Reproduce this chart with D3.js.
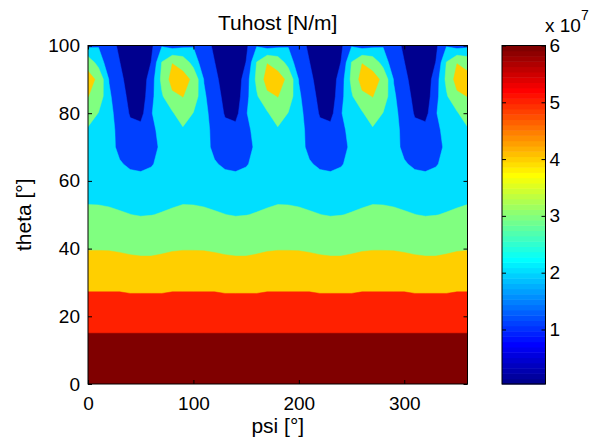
<!DOCTYPE html>
<html>
<head>
<meta charset="utf-8">
<script src="https://cdn.jsdelivr.net/npm/d3@7"></script>
<style>
body{margin:0;background:#fff;}
text{font-family:"Liberation Sans",Arial,sans-serif;fill:#000;}
</style>
</head>
<body>
<script>
// grid positions (degrees)
const psi = [0,10,20,30,40,50,60,70,80,90,100,110,120,130,140,150,160,170,180,190,200,210,220,230,240,250,260,270,280,290,300,310,320,330,340,350,360];
const theta = [0,5,10,15,20,25,30,35,40,45,50,55,60,65,70,75,80,85,90,95,100];

// Tuhost values in 1e7 N/m, one row per theta (ascending), one column per psi
const tuhost = [
 [6,6,6,6,6,6,6,6,6,6,6,6,6,6,6,6,6,6,6,6,6,6,6,6,6,6,6,6,6,6,6,6,6,6,6,6,6],
 [6,6,6,6,6,6,6,6,6,6,6,6,6,6,6,6,6,6,6,6,6,6,6,6,6,6,6,6,6,6,6,6,6,6,6,6,6],
 [6,6,6,6,6,6,6,6,6,6,6,6,6,6,6,6,6,6,6,6,6,6,6,6,6,6,6,6,6,6,6,6,6,6,6,6,6],
 [6,6,6,6,6,6,6,6,6,6,6,6,6,6,6,6,6,6,6,6,6,6,6,6,6,6,6,6,6,6,6,6,6,6,6,6,6],
 [5.6,5.6,5.6,5.6,5.6,5.6,5.6,5.6,5.6,5.6,5.6,5.6,5.6,5.6,5.6,5.6,5.6,5.6,5.6,5.6,5.6,5.6,5.6,5.6,5.6,5.6,5.6,5.6,5.6,5.6,5.6,5.6,5.6,5.6,5.6,5.6,5.6],
 [5.33,5.33,5.33,5.33,5.24,5.24,5.24,5.24,5.33,5.33,5.33,5.33,5.33,5.24,5.24,5.24,5.24,5.33,5.33,5.33,5.33,5.33,5.24,5.24,5.24,5.24,5.33,5.33,5.33,5.33,5.33,5.24,5.24,5.24,5.24,5.33,5.33],
 [4.7,4.7,4.7,4.7,4.7,4.7,4.7,4.7,4.7,4.7,4.7,4.7,4.7,4.7,4.7,4.7,4.7,4.7,4.7,4.7,4.7,4.7,4.7,4.7,4.7,4.7,4.7,4.7,4.7,4.7,4.7,4.7,4.7,4.7,4.7,4.7,4.7],
 [4.35,4.35,4.35,4.35,4.35,4.35,4.35,4.35,4.35,4.35,4.35,4.35,4.35,4.35,4.35,4.35,4.35,4.35,4.35,4.35,4.35,4.35,4.35,4.35,4.35,4.35,4.35,4.35,4.35,4.35,4.35,4.35,4.35,4.35,4.35,4.35,4.35],
 [3.97,3.97,3.96,3.91,3.82,3.74,3.74,3.85,3.94,3.97,3.97,3.96,3.91,3.82,3.74,3.74,3.85,3.94,3.97,3.97,3.96,3.91,3.82,3.74,3.74,3.85,3.94,3.97,3.97,3.96,3.91,3.82,3.74,3.74,3.85,3.94,3.97],
 [3.5,3.5,3.5,3.5,3.5,3.5,3.5,3.5,3.5,3.5,3.5,3.5,3.5,3.5,3.5,3.5,3.5,3.5,3.5,3.5,3.5,3.5,3.5,3.5,3.5,3.5,3.5,3.5,3.5,3.5,3.5,3.5,3.5,3.5,3.5,3.5,3.5],
 [3.38,3.34,3.2,3.06,2.98,2.92,2.95,3.02,3.15,3.38,3.34,3.2,3.06,2.98,2.92,2.95,3.02,3.15,3.38,3.34,3.2,3.06,2.98,2.92,2.95,3.02,3.15,3.38,3.34,3.2,3.06,2.98,2.92,2.95,3.02,3.15,3.38],
 [2.7,2.7,2.7,2.7,2.7,2.6,2.65,2.7,2.7,2.7,2.7,2.7,2.7,2.7,2.6,2.65,2.7,2.7,2.7,2.7,2.7,2.7,2.7,2.6,2.65,2.7,2.7,2.7,2.7,2.7,2.7,2.7,2.6,2.65,2.7,2.7,2.7],
 [2.55,2.55,2.55,2.45,2.3,2.25,2.4,2.55,2.55,2.55,2.55,2.55,2.45,2.3,2.25,2.4,2.55,2.55,2.55,2.55,2.55,2.45,2.3,2.25,2.4,2.55,2.55,2.55,2.55,2.55,2.45,2.3,2.25,2.4,2.55,2.55,2.55],
 [2.5,2.5,2.45,2.1,1.9,1.85,1.95,2.3,2.5,2.5,2.5,2.45,2.1,1.9,1.85,1.95,2.3,2.5,2.5,2.5,2.45,2.1,1.9,1.85,1.95,2.3,2.5,2.5,2.5,2.45,2.1,1.9,1.85,1.95,2.3,2.5,2.5],
 [2.6,2.55,2.3,1.85,1.7,1.65,1.85,2.13,2.5,2.6,2.55,2.3,1.85,1.7,1.65,1.85,2.13,2.5,2.6,2.55,2.3,1.85,1.7,1.65,1.85,2.13,2.5,2.6,2.55,2.3,1.85,1.7,1.65,1.85,2.13,2.5,2.6],
 [2.8,2.7,2.43,1.7,1.25,1.4,1.9,2.2,2.6,2.8,2.7,2.43,1.7,1.25,1.4,1.9,2.2,2.6,2.8,2.7,2.43,1.7,1.25,1.4,1.9,2.2,2.6,2.8,2.7,2.43,1.7,1.25,1.4,1.9,2.2,2.6,2.8],
 [3.65,2.93,2.38,1.5,1.02,0.76,1.95,2.75,2.85,3.65,2.93,2.38,1.5,1.02,0.76,1.95,2.75,2.85,3.65,2.93,2.38,1.5,1.02,0.76,1.95,2.75,2.85,3.65,2.93,2.38,1.5,1.02,0.76,1.95,2.75,2.85,3.65],
 [4.03,3.6,2.18,1.42,0.88,0.5,1.75,2.85,3.8,4.03,3.6,2.18,1.42,0.88,0.5,1.75,2.85,3.8,4.03,3.6,2.18,1.42,0.88,0.5,1.75,2.85,3.8,4.03,3.6,2.18,1.42,0.88,0.5,1.75,2.85,3.8,4.03],
 [4.4,3.8,1.98,1.3,0.7,0.45,1.55,3.2,4.4,4.4,3.8,1.98,1.3,0.7,0.45,1.55,3.2,4.4,4.4,3.8,1.98,1.3,0.7,0.45,1.55,3.2,4.4,4.4,3.8,1.98,1.3,0.7,0.45,1.55,3.2,4.4,4.4],
 [3.6,2.6,1.46,1.1,0.5,0.4,1.1,3.0,3.98,3.6,2.6,1.46,1.1,0.5,0.4,1.1,3.0,3.98,3.6,2.6,1.46,1.1,0.5,0.4,1.1,3.0,3.98,3.6,2.6,1.46,1.1,0.5,0.4,1.1,3.0,3.98,3.6],
 [1.8,1.95,1.5,0.9,0.35,0.3,0.9,1.95,1.6,1.8,1.95,1.5,0.9,0.35,0.3,0.9,1.95,1.6,1.8,1.95,1.5,0.9,0.35,0.3,0.9,1.95,1.6,1.8,1.95,1.5,0.9,0.35,0.3,0.9,1.95,1.6,1.8]
];

const levels = [0.04,1.08,2.03,2.97,4.01,5.05,6.0];   // contour levels
const cRange = [0.04,6];                               // colour axis
const xTicks = [0,100,200,300];
const yTicks = [0,20,40,60,80,100];
const cTicks = [1,2,3,4,5,6];

const W = 592, H = 443;
const plot = {left:88, right:467.5, top:45.5, bottom:384};
const cbar = {left:502, right:545.5};

const svg = d3.select("body").append("svg")
	.attr("width",W)
	.attr("height",H);

// matlab jet(64)
function jet(k){ // k = 1..64
	var r,g,b;
	if(k<=24) r=0; else if(k<=40) r=(k-24)/16; else if(k<=56) r=1; else r=1-(k-56)/16;
	if(k<=8) g=0; else if(k<=24) g=(k-8)/16; else if(k<=40) g=1; else if(k<=56) g=1-(k-40)/16; else g=0;
	if(k<=8) b=0.5+k/16; else if(k<=24) b=1; else if(k<=40) b=1-(k-24)/16; else b=0;
	return d3.rgb(r*255,g*255,b*255).formatHex();
}
function levelColor(v){
	var k = Math.floor((v-cRange[0])/(cRange[1]-cRange[0])*64);
	k = Math.max(0,Math.min(63,k));
	return jet(k+1);
}

var x = d3.scaleLinear().domain([0,360]).range([plot.left,plot.right]);
var y = d3.scaleLinear().domain([0,100]).range([plot.bottom,plot.top]);

// grid index -> data coords (d3.contours puts value i at i+0.5)
var colPsi = d3.scaleLinear().domain([0.5,psi.length-0.5]).range([psi[0],psi[psi.length-1]]);
var rowTheta = d3.scaleLinear().domain([0.5,theta.length-0.5]).range([theta[0],theta[theta.length-1]]);

var proj = d3.geoTransform({point:function(cx,cy){
	this.stream.point(x(colPsi(cx)),y(rowTheta(cy)));
}});
var path = d3.geoPath(proj);

var values = [];
tuhost.forEach(function(row){ row.forEach(function(v){ values.push(v); }); });

var contours = d3.contours()
	.size([psi.length,theta.length])
	.thresholds(levels.slice(1))(values);

svg.append("clipPath").attr("id","clip")
	.append("rect")
	.attr("x",plot.left).attr("y",plot.top)
	.attr("width",plot.right-plot.left).attr("height",plot.bottom-plot.top);

var fillGroup = svg.append("g").attr("clip-path","url(#clip)");
fillGroup.append("rect")
	.attr("x",plot.left).attr("y",plot.top)
	.attr("width",plot.right-plot.left).attr("height",plot.bottom-plot.top)
	.attr("fill",levelColor(levels[0]));
fillGroup.selectAll("path")
	.data(contours)
	.enter()
	.append("path")
	.attr("d",path)
	.attr("fill",function(d){return levelColor(d.value)})
	.attr("stroke",function(d){return levelColor(d.value)})
	.attr("stroke-width",0.5);

// axes with inward ticks
function styleAxis(g){
	g.select(".domain").remove();
	g.selectAll("line").attr("stroke","#000");
	g.selectAll("text").attr("font-size","19px").attr("font-family",null);
}
svg.append("g")
	.attr("transform","translate(0,"+plot.bottom+")")
	.call(d3.axisBottom(x).tickValues(xTicks).tickSize(-4).tickPadding(12.5))
	.call(styleAxis);
svg.append("g")
	.attr("transform","translate(0,"+plot.top+")")
	.call(d3.axisTop(x).tickValues(xTicks).tickSize(-4).tickFormat(""))
	.call(styleAxis);
svg.append("g")
	.attr("transform","translate("+plot.left+",0)")
	.call(d3.axisLeft(y).tickValues(yTicks).tickSize(-4).tickPadding(8))
	.call(styleAxis);
svg.append("g")
	.attr("transform","translate("+plot.right+",0)")
	.call(d3.axisRight(y).tickValues(yTicks).tickSize(-4).tickFormat(""))
	.call(styleAxis);

svg.append("rect")
	.attr("x",plot.left).attr("y",plot.top)
	.attr("width",plot.right-plot.left).attr("height",plot.bottom-plot.top)
	.attr("fill","none").attr("stroke","#000").attr("stroke-width",1);

// labels
svg.append("text")
	.attr("x",(plot.left+plot.right)/2).attr("y",29.5)
	.attr("text-anchor","middle").attr("font-size","21px")
	.text("Tuhost [N/m]");
svg.append("text")
	.attr("x",(plot.left+plot.right)/2).attr("y",433)
	.attr("text-anchor","middle").attr("font-size","21px")
	.text("psi [°]");
svg.append("text")
	.attr("transform","translate(30.5,"+((plot.top+plot.bottom)/2)+") rotate(-90)")
	.attr("text-anchor","middle").attr("font-size","21px")
	.text("theta [°]");

// colorbar
var cy = d3.scaleLinear().domain(cRange).range([plot.bottom,plot.top]);
var steps = d3.range(64);
var cStep = (cRange[1]-cRange[0])/64;
svg.append("g").selectAll("rect")
	.data(steps)
	.enter()
	.append("rect")
	.attr("x",cbar.left)
	.attr("y",function(k){return cy(cRange[0]+(k+1)*cStep)})
	.attr("width",cbar.right-cbar.left)
	.attr("height",function(k){return cy(cRange[0]+k*cStep)-cy(cRange[0]+(k+1)*cStep)+0.5})
	.attr("fill",function(k){return jet(k+1)});

svg.append("g")
	.attr("transform","translate("+cbar.right+",0)")
	.call(d3.axisRight(cy).tickValues(cTicks).tickSize(-4).tickPadding(4).tickFormat(d3.format("d")))
	.call(styleAxis);
svg.append("g")
	.attr("transform","translate("+cbar.left+",0)")
	.call(d3.axisLeft(cy).tickValues(cTicks).tickSize(-4).tickFormat(""))
	.call(styleAxis);
svg.append("rect")
	.attr("x",cbar.left).attr("y",plot.top)
	.attr("width",cbar.right-cbar.left).attr("height",plot.bottom-plot.top)
	.attr("fill","none").attr("stroke","#000").attr("stroke-width",1);

var expo = svg.append("text").attr("x",545).attr("y",32).attr("font-size","19px");
expo.append("tspan").text("x 10");
expo.append("tspan").attr("dy",-12).attr("font-size","14px").text("7");
</script>
</body>
</html>
